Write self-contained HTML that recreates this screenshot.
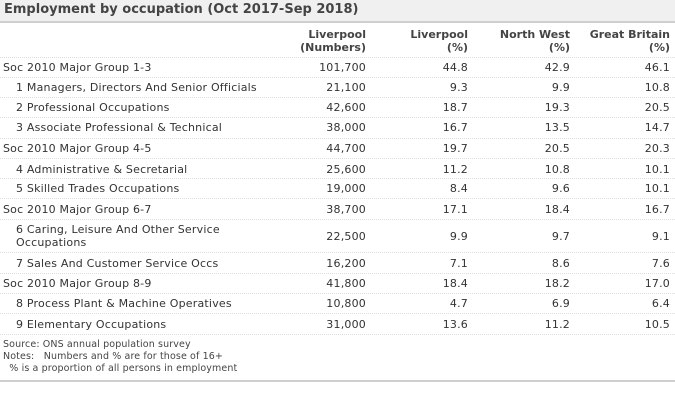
<!DOCTYPE html>
<html><head><style>
body{margin:0;width:675px;height:400px;background:#fff;font-family:"DejaVu Sans",Verdana,sans-serif;color:#333;position:relative;overflow:hidden}
.t{position:absolute;left:0;top:0;width:675px;height:21px;background:#f0f0f0;font-weight:bold;font-size:13px;color:#444;line-height:20px;padding-left:4px;box-sizing:border-box}
.hl{position:absolute;left:0;width:675px;height:2px;background:#cfcfcf}
.r{position:absolute;left:0;width:675px;font-size:11px;line-height:13px;letter-spacing:0.2px}
.r span{position:absolute;white-space:nowrap}
.l{left:3px}.s{left:16px}
.c1{right:309px;text-align:right}.c2{right:207px;text-align:right}.c3{right:105px;text-align:right}.c4{right:5px;text-align:right}
.sep{position:absolute;left:0;width:675px;border-top:1px dotted #ddd}
.h span{font-weight:bold;color:#444;letter-spacing:0}
.f{position:absolute;left:3px;font-size:9.5px;letter-spacing:0.12px;color:#444;white-space:pre}
</style></head><body>
<div class="t">Employment by occupation (Oct 2017-Sep 2018)</div>
<div class="hl" style="top:21px"></div>
<div class="r h" style="top:28px"><span class="c1">Liverpool<br>(Numbers)</span><span class="c2">Liverpool<br>(%)</span><span class="c3">North West<br>(%)</span><span class="c4">Great Britain<br>(%)</span></div>
<div class="sep" style="top:57px"></div>
<div class="r" style="top:61px"><span class="l">Soc 2010 Major Group 1-3</span><span class="c1">101,700</span><span class="c2">44.8</span><span class="c3">42.9</span><span class="c4">46.1</span></div>
<div class="sep" style="top:77px"></div>
<div class="r" style="top:81px"><span class="s">1 Managers, Directors And Senior Officials</span><span class="c1">21,100</span><span class="c2">9.3</span><span class="c3">9.9</span><span class="c4">10.8</span></div>
<div class="sep" style="top:97px"></div>
<div class="r" style="top:101px"><span class="s">2 Professional Occupations</span><span class="c1">42,600</span><span class="c2">18.7</span><span class="c3">19.3</span><span class="c4">20.5</span></div>
<div class="sep" style="top:117px"></div>
<div class="r" style="top:121px"><span class="s">3 Associate Professional &amp; Technical</span><span class="c1">38,000</span><span class="c2">16.7</span><span class="c3">13.5</span><span class="c4">14.7</span></div>
<div class="sep" style="top:138px"></div>
<div class="r" style="top:142px"><span class="l">Soc 2010 Major Group 4-5</span><span class="c1">44,700</span><span class="c2">19.7</span><span class="c3">20.5</span><span class="c4">20.3</span></div>
<div class="sep" style="top:158px"></div>
<div class="r" style="top:163px"><span class="s">4 Administrative &amp; Secretarial</span><span class="c1">25,600</span><span class="c2">11.2</span><span class="c3">10.8</span><span class="c4">10.1</span></div>
<div class="sep" style="top:178px"></div>
<div class="r" style="top:182px"><span class="s">5 Skilled Trades Occupations</span><span class="c1">19,000</span><span class="c2">8.4</span><span class="c3">9.6</span><span class="c4">10.1</span></div>
<div class="sep" style="top:198px"></div>
<div class="r" style="top:203px"><span class="l">Soc 2010 Major Group 6-7</span><span class="c1">38,700</span><span class="c2">17.1</span><span class="c3">18.4</span><span class="c4">16.7</span></div>
<div class="sep" style="top:219px"></div>
<div class="r" style="top:223px"><span class="s">6 Caring, Leisure And Other Service<br>Occupations</span><span class="c1" style="top:7px">22,500</span><span class="c2" style="top:7px">9.9</span><span class="c3" style="top:7px">9.7</span><span class="c4" style="top:7px">9.1</span></div>
<div class="sep" style="top:252px"></div>
<div class="r" style="top:257px"><span class="s">7 Sales And Customer Service Occs</span><span class="c1">16,200</span><span class="c2">7.1</span><span class="c3">8.6</span><span class="c4">7.6</span></div>
<div class="sep" style="top:273px"></div>
<div class="r" style="top:277px"><span class="l">Soc 2010 Major Group 8-9</span><span class="c1">41,800</span><span class="c2">18.4</span><span class="c3">18.2</span><span class="c4">17.0</span></div>
<div class="sep" style="top:293px"></div>
<div class="r" style="top:297px"><span class="s">8 Process Plant &amp; Machine Operatives</span><span class="c1">10,800</span><span class="c2">4.7</span><span class="c3">6.9</span><span class="c4">6.4</span></div>
<div class="sep" style="top:313px"></div>
<div class="r" style="top:318px"><span class="s">9 Elementary Occupations</span><span class="c1">31,000</span><span class="c2">13.6</span><span class="c3">11.2</span><span class="c4">10.5</span></div>
<div class="sep" style="top:334px"></div>
<div class="f" style="top:339px">Source: ONS annual population survey</div>
<div class="f" style="top:351px">Notes:   Numbers and % are for those of 16+</div>
<div class="f" style="top:363px">  % is a proportion of all persons in employment</div>
<div class="hl" style="top:380px"></div>
</body></html>
